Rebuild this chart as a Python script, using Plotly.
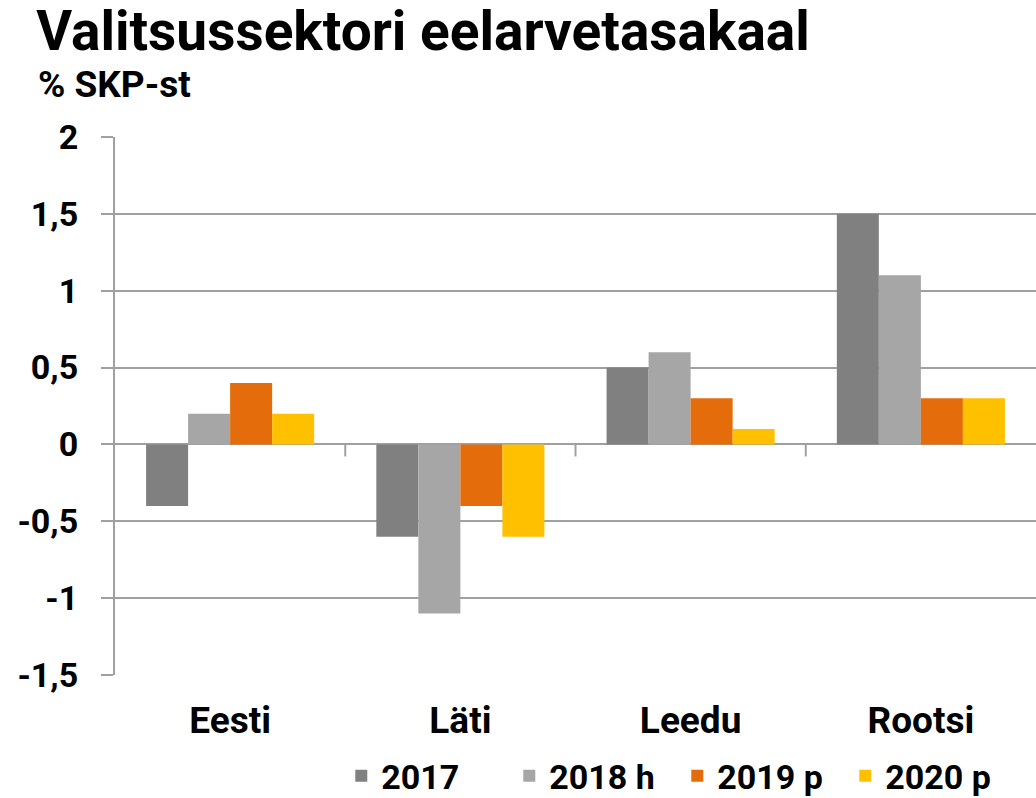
import plotly.graph_objects as go

categories = ["Eesti", "Läti", "Leedu", "Rootsi"]
series_names = ["2017", "2018 h", "2019 p", "2020 p"]
values_2017 = [-0.4, -0.6, 0.5, 1.5]
values_2018 = [0.2, -1.1, 0.6, 1.1]
values_2019 = [0.4, -0.4, 0.3, 0.3]
values_2020 = [0.2, -0.6, 0.1, 0.3]
colors = ["#808080", "#A6A6A6", "#E46C0A", "#FFC000"]
tick_vals = [-1.5, -1, -0.5, 0, 0.5, 1, 1.5, 2]
tick_text = ["-1,5", "-1", "-0,5", "0", "0,5", "1", "1,5", "2"]

FONT = "Roboto"
fig = go.Figure()
for name, vals, col in zip(series_names, [values_2017, values_2018, values_2019, values_2020], colors):
    fig.add_trace(go.Bar(x=categories, y=vals, name=name, marker=dict(color=col, line=dict(width=0))))

grid = "#A0A0A0"
shapes = []
for i in range(len(categories) - 1):
    shapes.append(dict(type="line", xref="x", yref="y", x0=i + 0.5, x1=i + 0.5, y0=0, y1=-0.078,
                       line=dict(color=grid, width=2)))

fig.update_layout(
    width=1036, height=798,
    margin=dict(l=115, r=0, t=137, b=123, autoexpand=False),
    paper_bgcolor="white", plot_bgcolor="white",
    barmode="group", bargap=0.27, bargroupgap=0,
    font=dict(family=FONT, color="black", size=30),
    showlegend=True,
    title=dict(text="<b>Valitsussektori eelarvetasakaal</b>", x=0.035, xanchor="left",
               y=0.961, yanchor="middle", font=dict(family=FONT, size=55, color="black")),
    legend=dict(orientation="h", x=0.2457, xanchor="left", y=-0.188, yanchor="middle",
                font=dict(family=FONT, size=34, color="black", weight="bold"),
                entrywidth=123, entrywidthmode="pixels", tracegroupgap=0),
    shapes=shapes,
    annotations=[
        dict(text="<b>% SKP-st</b>", xref="paper", yref="paper", x=-0.0858, y=1.0985,
             xanchor="left", yanchor="middle", showarrow=False, font=dict(family=FONT, size=37)),
    ],
)
fig.update_xaxes(showline=False, showgrid=False, ticks="", automargin=False,
                 tickfont=dict(family=FONT, size=37, weight="bold"), ticklabelstandoff=20)
fig.update_yaxes(range=[-1.5, 2], tickvals=tick_vals, ticktext=tick_text, showgrid=True, gridcolor=grid,
                 gridwidth=2, zeroline=False, showline=True, linecolor=grid, linewidth=2, ticks="outside",
                 ticklen=12, tickcolor=grid, tickwidth=2, automargin=False,
                 tickfont=dict(family=FONT, size=34, weight="bold"), ticklabelstandoff=16)
fig.write_html("out.html", config={"displayModeBar": False},
               post_script="document.body.style.margin='0px';")
